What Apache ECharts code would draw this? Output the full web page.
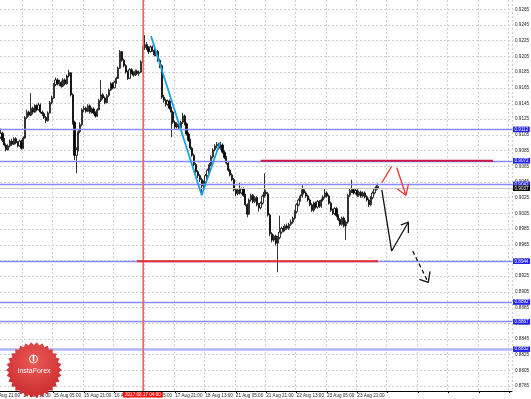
<!DOCTYPE html>
<html><head><meta charset="utf-8">
<script src="https://cdn.jsdelivr.net/npm/echarts@6/dist/echarts.min.js"></script>
<style>html,body{margin:0;padding:0;background:#fff}#c{width:531px;height:399px}</style>
</head><body><div id="c"></div>
<script>
// ---- data ----
const xLabels = ['11 Aug 21:00','14 Aug 13:00','15 Aug 05:00','15 Aug 21:00','16 Aug 13:00','17 Aug 05:00','17 Aug 21:00','18 Aug 13:00','21 Aug 05:00','21 Aug 21:00','22 Aug 13:00','23 Aug 05:00','23 Aug 21:00'];
const yTicks = [0.8785,0.8805,0.8825,0.8845,0.8865,0.8885,0.8905,0.8925,0.8945,0.8965,0.8985,0.9005,0.9025,0.9045,0.9065,0.9085,0.9105,0.9125,0.9145,0.9165,0.9185,0.9205,0.9225,0.9245,0.9265];
// [open, close, low, high] per H1 bar
const candles = [
[.9108,.9105,.9102,.9110],[.9105,.9101,.9098,.9107],[.9101,.9106,.9099,.9108],[.9106,.9102,.9100,.9109],[.9102,.9107,.9100,.9113],
[.9107,.9098,.9096,.9109],[.9098,.9092,.9090,.9101],[.9092,.9086,.9084,.9094],[.9086,.9091,.9085,.9093],[.9091,.9097,.9089,.9099],
[.9097,.9093,.9091,.9100],[.9093,.9100,.9092,.9102],[.9100,.9095,.9093,.9102],[.9095,.9091,.9089,.9097],[.9091,.9097,.9090,.9099],
[.9097,.9088,.9086,.9099],[.9088,.9101,.9087,.9103],[.9101,.9127,.9100,.9129],[.9127,.9134,.9125,.9137],[.9134,.9130,.9128,.9136],
[.9130,.9139,.9129,.9158],[.9139,.9134,.9131,.9141],[.9134,.9142,.9133,.9144],[.9142,.9137,.9135,.9144],[.9137,.9143,.9136,.9146],
[.9143,.9134,.9132,.9145],[.9134,.9132,.9129,.9136],[.9132,.9127,.9125,.9134],[.9127,.9123,.9120,.9129],[.9123,.9133,.9122,.9135],
[.9133,.9146,.9132,.9148],[.9146,.9152,.9144,.9155],[.9152,.9169,.9151,.9171],[.9169,.9175,.9167,.9178],[.9175,.9170,.9168,.9177],
[.9170,.9172,.9167,.9175],[.9172,.9167,.9165,.9174],[.9167,.9175,.9166,.9177],[.9175,.9170,.9168,.9177],[.9170,.9180,.9169,.9182],
[.9180,.9184,.9178,.9188],[.9184,.9156,.9154,.9185],[.9156,.9121,.9118,.9158],[.9121,.9079,.9073,.9123],[.9079,.9086,.9056,.9089],
[.9086,.9109,.9084,.9111],[.9109,.9118,.9107,.9121],[.9118,.9137,.9116,.9139],[.9137,.9139,.9134,.9142],[.9139,.9135,.9133,.9141],
[.9135,.9142,.9134,.9144],[.9142,.9134,.9132,.9144],[.9134,.9138,.9132,.9140],[.9138,.9133,.9131,.9140],[.9133,.9129,.9127,.9135],
[.9129,.9137,.9128,.9139],[.9137,.9149,.9136,.9151],[.9149,.9156,.9147,.9175],[.9156,.9152,.9150,.9158],[.9152,.9146,.9144,.9154],
[.9146,.9155,.9145,.9157],[.9155,.9162,.9153,.9164],[.9162,.9170,.9161,.9172],[.9170,.9165,.9163,.9172],[.9165,.9172,.9164,.9174],
[.9172,.9177,.9170,.9179],[.9177,.9190,.9176,.9192],[.9190,.9211,.9189,.9213],[.9211,.9200,.9198,.9212],[.9200,.9193,.9191,.9202],
[.9193,.9185,.9183,.9195],[.9185,.9177,.9175,.9187],[.9177,.9188,.9176,.9190],[.9188,.9184,.9182,.9190],[.9184,.9181,.9179,.9186],
[.9181,.9186,.9180,.9188],[.9186,.9183,.9181,.9188],[.9183,.9185,.9180,.9187],[.9185,.9198,.9184,.9200],[.9198,.9216,.9197,.9218],
[.9216,.9220,.9213,.9232],[.9220,.9216,.9213,.9223],[.9216,.9211,.9208,.9218],[.9211,.9217,.9210,.9219],[.9217,.9213,.9211,.9219],
[.9213,.9207,.9205,.9215],[.9207,.9211,.9205,.9213],[.9211,.9200,.9198,.9213],[.9200,.9193,.9190,.9202],[.9193,.9153,.9151,.9195],
[.9153,.9149,.9146,.9156],[.9149,.9144,.9141,.9151],[.9144,.9148,.9142,.9150],[.9148,.9139,.9137,.9150],[.9139,.9134,.9102,.9141],
[.9134,.9121,.9119,.9136],[.9121,.9115,.9112,.9123],[.9115,.9119,.9113,.9121],[.9119,.9114,.9111,.9121],[.9114,.9121,.9113,.9123],
[.9121,.9129,.9119,.9133],[.9129,.9119,.9117,.9131],[.9119,.9106,.9104,.9121],[.9106,.9098,.9096,.9108],[.9098,.9088,.9086,.9100],
[.9088,.9079,.9077,.9090],[.9079,.9067,.9065,.9081],[.9067,.9058,.9056,.9069],[.9058,.9053,.9050,.9060],[.9053,.9048,.9045,.9055],
[.9048,.9040,.9028,.9050],[.9040,.9045,.9037,.9047],[.9045,.9053,.9043,.9055],[.9053,.9060,.9051,.9062],[.9060,.9067,.9058,.9069],
[.9067,.9077,.9065,.9079],[.9077,.9086,.9075,.9088],[.9086,.9091,.9084,.9093],[.9091,.9093,.9088,.9096],[.9093,.9088,.9086,.9095],
[.9088,.9092,.9086,.9096],[.9092,.9083,.9081,.9094],[.9083,.9076,.9074,.9085],[.9076,.9069,.9067,.9078],[.9069,.9060,.9058,.9071],
[.9060,.9054,.9052,.9062],[.9054,.9048,.9046,.9056],[.9048,.9035,.9033,.9050],[.9035,.9030,.9027,.9037],[.9030,.9035,.9028,.9037],
[.9035,.9031,.9029,.9044],[.9031,.9036,.9029,.9038],[.9036,.9028,.9026,.9038],[.9028,.9016,.9014,.9030],[.9016,.9004,.9000,.9018],
[.9004,.9022,.9003,.9024],[.9022,.9028,.9020,.9030],[.9028,.9020,.9018,.9030],[.9020,.9025,.9018,.9027],[.9025,.9016,.9014,.9027],
[.9016,.9012,.9007,.9018],[.9012,.9018,.9010,.9020],[.9018,.9027,.9016,.9029],[.9027,.9032,.9025,.9056],[.9032,.9030,.9027,.9035],
[.9030,.9003,.9001,.9032],[.9003,.8979,.8976,.9005],[.8979,.8971,.8968,.8981],[.8971,.8976,.8969,.8978],[.8976,.8967,.8964,.8978],
[.8967,.8974,.8930,.8976],[.8974,.8981,.8972,.9002],[.8981,.8986,.8979,.8988],[.8986,.8984,.8981,.8989],[.8984,.8989,.8982,.8991],
[.8989,.8986,.8984,.8992],[.8986,.8991,.8984,.8993],[.8991,.8994,.8989,.8997],[.8994,.8999,.8992,.9001],[.8999,.9007,.8997,.9009],
[.9007,.9016,.9005,.9018],[.9016,.9022,.9014,.9024],[.9022,.9027,.9020,.9029],[.9027,.9035,.9025,.9041],[.9035,.9031,.9029,.9037],
[.9031,.9027,.9025,.9033],[.9027,.9022,.9020,.9029],[.9022,.9016,.9014,.9024],[.9016,.9009,.9007,.9018],[.9009,.9018,.9007,.9020],
[.9018,.9013,.9011,.9020],[.9013,.9020,.9011,.9022],[.9020,.9014,.9012,.9022],[.9014,.9022,.9012,.9024],[.9022,.9026,.9020,.9028],
[.9026,.9031,.9024,.9037],[.9031,.9027,.9025,.9033],[.9027,.9018,.9016,.9029],[.9018,.9009,.9007,.9020],[.9009,.9005,.9003,.9011],
[.9005,.9011,.9003,.9013],[.9011,.9002,.9000,.9013],[.9002,.8997,.8995,.9004],[.8997,.8991,.8989,.8999],[.8991,.8999,.8989,.9001],
[.8999,.8989,.8987,.9001],[.8989,.8994,.8971,.8996],[.8994,.9028,.8992,.9030],[.9028,.9034,.9026,.9036],[.9034,.9035,.9031,.9048],
[.9035,.9031,.9029,.9037],[.9031,.9034,.9029,.9036],[.9034,.9028,.9026,.9036],[.9028,.9032,.9026,.9034],[.9032,.9027,.9025,.9034],
[.9027,.9031,.9025,.9033],[.9031,.9026,.9024,.9033],[.9026,.9022,.9020,.9028],[.9022,.9016,.9013,.9024],[.9016,.9025,.9014,.9027],
[.9025,.9031,.9023,.9033],[.9031,.9036,.9029,.9038],[.9036,.9039,.9034,.9041],[.9039,.9037,.9035,.9043]
];
const blueLevels = [0.9112, 0.9072, 0.9042, 0.8944, 0.8892, 0.8867, 0.8832];
const bidLevel = 0.9037;
const crimsonSegment = [[141.1, 0.9072], [263.5, 0.9072]];
const redSupport = [[75.9, 0.8944], [202.9, 0.8944]];
const timeMarkerIndex = 79;
const timeMarkerLabel = '2017.08.17 04:00';
const cyanWave = [[83.3, 0.9231], [110.0, 0.9028], [119.6, 0.9095]];
const blackPath = [[204.9, 0.9035], [210.1, 0.8957], [218.9, 0.8994]];
const blackHead = [[214.9, 0.8990], [218.9, 0.8994], [218.9, 0.8980]];
const blackDash = [[221.2, 0.8957], [229.4, 0.8917]];
const blackDashHead = [[224.7, 0.8921], [229.4, 0.8917], [230.3, 0.8931]];
const redUp = [[204.9, 0.9044], [210.1, 0.9065]];
const redDown = [[212.8, 0.9063], [217.6, 0.9028]];
const redHead = [[213.1, 0.9036], [217.6, 0.9028], [218.9, 0.9042]];

// ---- build ----
const N = 274;
const Y_MIN = 0.87787, Y_MAX = 0.92768;
const cats = [];
for (let i = 0; i < N; i++) cats.push(i % 16 === 0 && i / 16 < xLabels.length ? xLabels[i / 16] : '');
const F = '"Liberation Sans", Arial, sans-serif';
const every16 = (idx) => idx % 16 === 0;
const boxLabel = (text, bg, pad) => ({show: true, position: 'end', distance: 1, formatter: text, color: '#fff',
  backgroundColor: bg, padding: pad || [0.5, 1.5, 0, 1.5], fontSize: 4.6, fontFamily: F});

const levelLines = blueLevels.map((v) => ({
  yAxis: v,
  lineStyle: v === 0.8832 ? {color: '#b4b4ff', width: 2.5, type: 'solid'} : {color: '#8a8aff', width: 1.4, type: 'solid'},
  label: boxLabel(v.toFixed(4), '#1f1ff0')
}));
levelLines.push({yAxis: bidLevel, lineStyle: {color: '#c4c4c4', width: 1, type: 'solid'}, label: boxLabel(bidLevel.toFixed(4), '#000')});
const timeLine = [{
  xAxis: timeMarkerIndex,
  lineStyle: {color: 'rgba(240,100,100,1)', width: 1, type: 'solid'},
  label: Object.assign(boxLabel(timeMarkerLabel, '#ff1010', [0.5, 2, 0, 2]), {position: 'start'})
}];

function poly(data, color, width, type) {
  return {type: 'line', xAxisIndex: 1, yAxisIndex: 0, data: data, symbol: 'none', silent: true,
    lineStyle: {color: color, width: width, type: type || 'solid'}, z: 5, animation: false};
}

const pts = [];
const teeth = 30;
for (let k = 0; k < teeth * 2; k++) {
  const a = Math.PI * k / teeth;
  const r = k % 2 ? 25 : 28;
  pts.push([34 + r * Math.cos(a), 370 + r * Math.sin(a)]);
}

const chart = echarts.init(document.getElementById('c'), null, {renderer: 'canvas'});
chart.setOption({
  animation: false,
  backgroundColor: '#ffffff',
  grid: {left: -8, right: 19, top: 0, bottom: 8, containLabel: false, outerBoundsMode: 'none'},
  xAxis: [{
    type: 'category', data: cats, boundaryGap: true,
    axisLine: {show: true, lineStyle: {color: '#000', width: 1}},
    axisTick: {show: true, interval: every16, alignWithLabel: true, length: 2, lineStyle: {color: '#000'}},
    axisLabel: {show: true, interval: every16, align: 'left', margin: 2, fontSize: 4.6, color: '#222', fontFamily: F, hideOverlap: false},
    splitLine: {show: true, interval: every16, lineStyle: {color: '#cfcfcf', type: [2, 2], width: 1}}
  }, {
    type: 'value', min: -0.5, max: N - 0.5, show: false
  }],
  yAxis: [{
    type: 'value', position: 'right', min: Y_MIN, max: Y_MAX,
    axisLine: {show: true, lineStyle: {color: '#000', width: 1}},
    axisTick: {show: true, length: 2, customValues: yTicks, lineStyle: {color: '#000'}},
    axisLabel: {show: true, customValues: yTicks, margin: 3, fontSize: 4.6, color: '#222', fontFamily: F,
      formatter: (v) => v.toFixed(4)},
    splitLine: {show: true, lineStyle: {color: '#cfcfcf', type: [2, 2], width: 1}}
  }],
  series: [
    {
      type: 'line', xAxisIndex: 1, yAxisIndex: 0, data: [], symbol: 'none', z: 4,
      markLine: {symbol: ['none', 'none'], silent: true, animation: false, precision: 4, data: levelLines}
    },
    {
      type: 'line', xAxisIndex: 0, yAxisIndex: 0, data: [], symbol: 'none', z: 6,
      markLine: {symbol: ['none', 'none'], silent: true, animation: false, data: timeLine}
    },
    poly([[timeMarkerIndex, Y_MIN], [timeMarkerIndex, Y_MAX]], '#f06464', 1),
    {
      type: 'candlestick', data: candles, barWidth: 1.7, z: 3,
      itemStyle: {color: '#ffffff', color0: '#000000', borderColor: '#000000', borderColor0: '#000000', borderWidth: 0.8}
    },
    poly(crimsonSegment, '#c8164a', 2),
    poly(redSupport, '#e8282c', 2),
    poly(cyanWave, '#1a9fe0', 1.8),
    poly(blackPath, '#111', 1.3),
    poly(blackHead, '#111', 1.3),
    poly(blackDash, '#111', 1.3, [4, 3]),
    poly(blackDashHead, '#111', 1.3),
    poly(redUp, '#f03232', 1.3),
    poly(redDown, '#f03232', 1.3),
    poly(redHead, '#f03232', 1.3)
  ],
  graphic: [
    {type: 'polygon', shape: {points: pts}, z: 100,
      style: {fill: new echarts.graphic.RadialGradient(0.5, 0.35, 0.7, [{offset: 0, color: '#ea5a55'}, {offset: 1, color: '#c9272a'}])}},
    {type: 'circle', shape: {cx: 33.5, cy: 359, r: 4}, z: 101, style: {fill: 'none', stroke: '#fff', lineWidth: 1}},
    {type: 'rect', shape: {x: 32.7, y: 357, width: 1.6, height: 4.5}, z: 101, style: {fill: '#fff'}},
    {type: 'circle', shape: {cx: 33.5, cy: 356.2, r: 1}, z: 101, style: {fill: '#fff'}},
    {type: 'text', x: 34, y: 371, z: 101,
      style: {text: 'InstaForex', fill: '#fff', font: '7px ' + F, align: 'center', verticalAlign: 'middle', textAlign: 'center', textVerticalAlign: 'middle'}}
  ]
});
</script>
</body></html>
